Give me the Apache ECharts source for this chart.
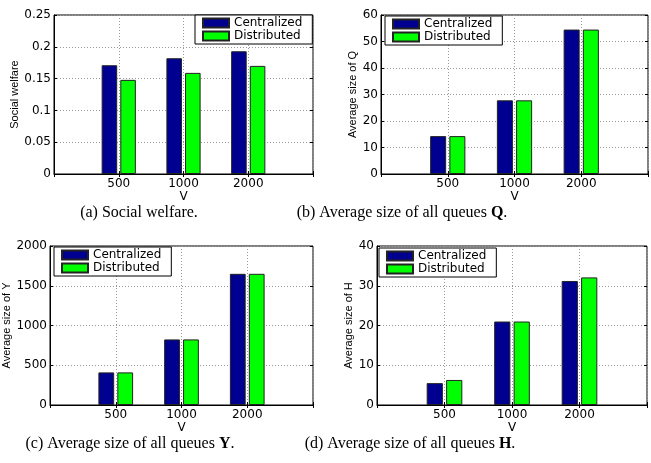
<!DOCTYPE html>
<html>
<head>
<meta charset="utf-8">
<script src="https://cdn.jsdelivr.net/npm/echarts@6/dist/echarts.min.js"></script>
<style>html,body{margin:0;padding:0;background:#fff;}#c{width:651px;height:463px;}</style>
</head>
<body>
<div id="c"></div>
<script>
const categories = ['500', '1000', '2000'];
const seriesNames = ['Centralized', 'Distributed'];
const welfareCentral = [0.171, 0.182, 0.193];
const welfareDistrib = [0.148, 0.159, 0.170];
const qCentral = [14.3, 27.8, 54.5];
const qDistrib = [14.3, 27.8, 54.5];
const yCentral = [410, 825, 1650];
const yDistrib = [410, 825, 1650];
const hCentral = [5.5, 21.0, 31.2];
const hDistrib = [6.3, 21.0, 32.1];
const yTicks = [
  {max: 0.25, interval: 0.05},
  {max: 60, interval: 10},
  {max: 2000, interval: 500},
  {max: 40, interval: 10}
];
const yNames = ['Social welfare', 'Average size of Q', 'Average size of Y', 'Average size of H'];
const captions = [
  ['(a) Social welfare.', ''],
  ['(b) Average size of all queues ', 'Q'],
  ['(c) Average size of all queues ', 'Y'],
  ['(d) Average size of all queues ', 'H']
];

const panels = [
  {c: welfareCentral, d: welfareDistrib},
  {c: qCentral, d: qDistrib},
  {c: yCentral, d: yDistrib},
  {c: hCentral, d: hDistrib}
];

const grids = [
  {left: 54, top: 15, width: 259, height: 159},
  {left: 381, top: 15, width: 269, height: 159},
  {left: 50, top: 246, width: 263, height: 159},
  {left: 377, top: 246, width: 270, height: 159}
];
const nameGaps = [30, 21, 33, 20];
const legendPos = [
  {left: 195, top: 15},
  {left: 385, top: 16},
  {left: 54, top: 247},
  {left: 379, top: 248}
];
const capPos = [[139, 213], [402, 213], [130, 444], [410, 444]];

const colors = ['#000090', '#00ff00'];
const FONT = 'DejaVu Sans';
const padCats = [''].concat(categories).concat(['']);
const pad = arr => [null].concat(arr).concat([null]);

const option = {
  backgroundColor: '#fff',
  animation: false,
  grid: grids.map(g => Object.assign({show: true, borderColor: '#000', borderWidth: 1, backgroundColor: '#fff'}, g)),
  xAxis: [],
  yAxis: [],
  legend: [],
  series: [],
  graphic: []
};

grids.forEach((g, i) => {
  option.xAxis.push({
    type: 'category', gridIndex: i, data: padCats, boundaryGap: false,
    name: 'V', nameLocation: 'middle', nameGap: 14,
    nameTextStyle: {fontFamily: FONT, fontSize: 12, color: '#000'},
    axisLine: {show: true, lineStyle: {color: '#000'}},
    axisTick: {show: true, inside: true, length: 3, lineStyle: {color: '#000'}},
    axisLabel: {fontFamily: FONT, fontSize: 12, color: '#000', margin: 4, interval: 0},
    splitLine: {show: true, lineStyle: {type: [1, 2], color: '#999'}}
  });
  option.xAxis.push({
    type: 'category', gridIndex: i, data: padCats, boundaryGap: false, position: 'top',
    axisLine: {show: false},
    axisTick: {show: true, inside: true, length: 3, lineStyle: {color: '#000'}},
    axisLabel: {show: false}, splitLine: {show: false}
  });
  option.yAxis.push({
    type: 'value', gridIndex: i, min: 0, max: yTicks[i].max, interval: yTicks[i].interval,
    name: yNames[i], nameLocation: 'middle', nameGap: nameGaps[i],
    nameTextStyle: {fontFamily: 'Liberation Sans', fontSize: 11, color: '#000'},
    axisLine: {show: true, lineStyle: {color: '#000'}},
    axisTick: {show: true, inside: true, length: 3, lineStyle: {color: '#000'}},
    axisLabel: {fontFamily: FONT, fontSize: 12, color: '#000', margin: 3, formatter: v => String(v)},
    splitLine: {show: true, lineStyle: {type: [1, 2], color: '#999'}}
  });
  option.yAxis.push({
    type: 'value', gridIndex: i, min: 0, max: yTicks[i].max, interval: yTicks[i].interval, position: 'right',
    axisLine: {show: false},
    axisTick: {show: true, inside: true, length: 3, lineStyle: {color: '#000'}},
    axisLabel: {show: false}, splitLine: {show: false}
  });
  const vals = [panels[i].c, panels[i].d];
  seriesNames.forEach((nm, k) => {
    option.series.push({
      type: 'bar', name: nm, xAxisIndex: i * 2, yAxisIndex: i * 2,
      data: pad(vals[k]), barWidth: '24%', barGap: '20%',
      itemStyle: {color: colors[k], borderColor: '#222', borderWidth: 1},
      legendHoverLink: false
    });
  });
  option.legend.push({
    orient: 'vertical', left: legendPos[i].left, top: legendPos[i].top,
    data: seriesNames, icon: 'rect', itemWidth: 26, itemHeight: 9, itemGap: 1,
    padding: [2, 10, 2, 7], borderColor: '#000', borderWidth: 1, backgroundColor: '#fff',
    textStyle: {fontFamily: FONT, fontSize: 12, color: '#000'},
    selectedMode: false, z: 10
  });
  option.graphic.push({
    type: 'text', x: capPos[i][0], y: capPos[i][1],
    style: {
      text: '{n|' + captions[i][0] + '}' + (captions[i][1] ? '{b|' + captions[i][1] + '}{n|.}' : ''),
      align: 'center', verticalAlign: 'middle',
      rich: {
        n: {fontFamily: 'Liberation Serif', fontSize: 16, fill: '#000'},
        b: {fontFamily: 'Liberation Serif', fontSize: 16, fontWeight: 'bold', fill: '#000'}
      }
    }
  });
});

const chart = echarts.init(document.getElementById('c'), null, {renderer: 'canvas'});
chart.setOption(option);
</script>
</body>
</html>
